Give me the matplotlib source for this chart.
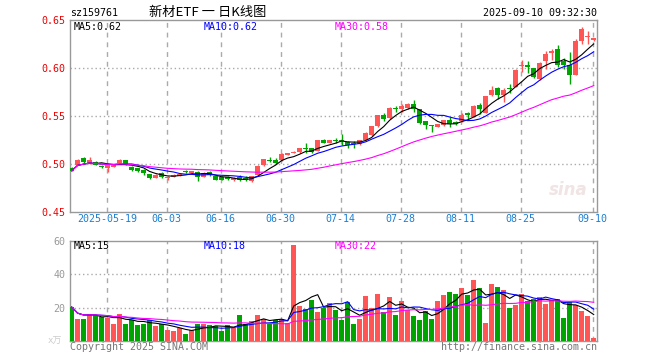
import numpy as np
import pandas as pd
import matplotlib
matplotlib.use('Agg')
import matplotlib.pyplot as plt

# 交易日（端午 6月2日 休市）
dates = pd.bdate_range('2025-05-09', '2025-09-10')
dates = dates[dates != pd.Timestamp('2025-06-02')]

# 日K数据：开 高 低 收
open_p = [0.4955, 0.4990, 0.5059, 0.5007, 0.5024, 0.4983, 0.4960, 0.4970, 0.5015, 0.5042,
          0.4972, 0.4955, 0.4940, 0.4892, 0.4855, 0.4910, 0.4850, 0.4865, 0.4880, 0.4922,
          0.4905, 0.4920, 0.4868, 0.4920, 0.4875, 0.4868, 0.4860, 0.4835, 0.4860, 0.4855,
          0.4825, 0.4885, 0.4985, 0.5040, 0.5040, 0.5040, 0.5094, 0.5118, 0.5122, 0.5160,
          0.5163, 0.5139, 0.5250, 0.5222, 0.5245, 0.5245, 0.5233, 0.5215, 0.5208, 0.5250,
          0.5302, 0.5396, 0.5510, 0.5476, 0.5580, 0.5573, 0.5580, 0.5628, 0.5573, 0.5448,
          0.5400, 0.5389, 0.5406, 0.5458, 0.5440, 0.5443, 0.5535, 0.5490, 0.5611, 0.5535,
          0.5722, 0.5792, 0.5722, 0.5790, 0.5802, 0.6022, 0.6035, 0.6000, 0.5882, 0.6069,
          0.6160, 0.6194, 0.6069, 0.6028, 0.5931, 0.6278, 0.6320, 0.6290]
high_p = [0.4965, 0.5050, 0.5076, 0.5076, 0.5030, 0.4990, 0.5000, 0.4995, 0.5050, 0.5045,
          0.4980, 0.4960, 0.4945, 0.4900, 0.4895, 0.4915, 0.4875, 0.4900, 0.4900, 0.4935,
          0.4930, 0.4925, 0.4915, 0.4925, 0.4880, 0.4875, 0.4870, 0.4862, 0.4885, 0.4870,
          0.4875, 0.4985, 0.5055, 0.5070, 0.5060, 0.5110, 0.5115, 0.5140, 0.5170, 0.5215,
          0.5170, 0.5255, 0.5260, 0.5255, 0.5270, 0.5313, 0.5240, 0.5240, 0.5255, 0.5330,
          0.5400, 0.5515, 0.5530, 0.5590, 0.5600, 0.5630, 0.5635, 0.5665, 0.5578, 0.5452,
          0.5402, 0.5420, 0.5462, 0.5490, 0.5450, 0.5530, 0.5540, 0.5610, 0.5639, 0.5712,
          0.5809, 0.5800, 0.5792, 0.5835, 0.5985, 0.6080, 0.6070, 0.6005, 0.6060, 0.6180,
          0.6194, 0.6236, 0.6100, 0.6166, 0.6298, 0.6427, 0.6382, 0.6315]
low_p = [0.4925, 0.4985, 0.5010, 0.4995, 0.4985, 0.4955, 0.4920, 0.4965, 0.5010, 0.4985,
         0.4930, 0.4915, 0.4885, 0.4840, 0.4850, 0.4850, 0.4835, 0.4860, 0.4875, 0.4905,
         0.4900, 0.4820, 0.4860, 0.4880, 0.4830, 0.4830, 0.4835, 0.4820, 0.4820, 0.4825,
         0.4815, 0.4880, 0.4980, 0.5020, 0.5005, 0.5035, 0.5090, 0.5110, 0.5118, 0.5110,
         0.5115, 0.5135, 0.5215, 0.5218, 0.5215, 0.5198, 0.5165, 0.5165, 0.5200, 0.5245,
         0.5295, 0.5390, 0.5450, 0.5470, 0.5540, 0.5540, 0.5575, 0.5545, 0.5420, 0.5365,
         0.5330, 0.5385, 0.5400, 0.5385, 0.5405, 0.5440, 0.5460, 0.5485, 0.5525, 0.5530,
         0.5710, 0.5674, 0.5646, 0.5735, 0.5798, 0.5958, 0.5945, 0.5895, 0.5875, 0.5990,
         0.6080, 0.6010, 0.5990, 0.5837, 0.5925, 0.6253, 0.6253, 0.6280]
close_p = [0.4930, 0.5042, 0.5024, 0.5042, 0.4990, 0.4965, 0.4985, 0.4985, 0.5042, 0.4990,
           0.4938, 0.4925, 0.4903, 0.4855, 0.4885, 0.4868, 0.4868, 0.4890, 0.4888, 0.4918,
           0.4925, 0.4860, 0.4910, 0.4888, 0.4838, 0.4838, 0.4845, 0.4855, 0.4830, 0.4830,
           0.4870, 0.4980, 0.5049, 0.5035, 0.5012, 0.5104, 0.5110, 0.5122, 0.5163, 0.5155,
           0.5122, 0.5250, 0.5222, 0.5250, 0.5240, 0.5240, 0.5200, 0.5210, 0.5250, 0.5326,
           0.5396, 0.5510, 0.5465, 0.5583, 0.5573, 0.5604, 0.5628, 0.5576, 0.5424, 0.5406,
           0.5396, 0.5415, 0.5458, 0.5413, 0.5413, 0.5510, 0.5507, 0.5604, 0.5569, 0.5708,
           0.5774, 0.5722, 0.5774, 0.5782, 0.5976, 0.6028, 0.6007, 0.5906, 0.6052, 0.6142,
           0.6173, 0.6035, 0.6035, 0.5931, 0.6278, 0.6410, 0.6325, 0.6310]
# 成交量（万）
volume = [20.4, 13.0, 13.4, 16.0, 15.4, 14.4, 14.0, 10.4, 16.0, 10.4,
          12.8, 9.4, 10.0, 12.4, 8.8, 10.0, 6.8, 6.0, 8.0, 4.0,
          6.8, 10.4, 10.0, 9.4, 8.8, 6.0, 9.4, 8.0, 15.4, 10.4,
          11.8, 15.4, 13.4, 10.4, 12.8, 13.4, 10.8, 57.4, 20.8, 19.0,
          24.4, 17.4, 19.8, 22.8, 18.4, 12.4, 23.4, 10.0, 13.0, 26.8,
          20.0, 28.0, 17.4, 26.4, 15.4, 23.8, 18.4, 14.8, 12.4, 17.8,
          13.0, 24.0, 27.4, 29.4, 28.0, 31.8, 27.4, 36.4, 31.8, 10.8,
          34.0, 32.4, 30.4, 20.0, 21.4, 28.0, 23.8, 25.0, 26.4, 22.0,
          24.8, 25.0, 13.8, 23.4, 21.4, 18.0, 14.8, 1.8]

tick_dates = ['2025-05-19', '2025-06-03', '2025-06-16', '2025-06-30', '2025-07-14',
              '2025-07-28', '2025-08-11', '2025-08-25', '2025-09-10']
tick_labels = ['2025-05-19', '06-03', '06-16', '06-30', '07-14',
               '07-28', '08-11', '08-25', '09-10']

o = np.array(open_p)
h = np.array(high_p)
l = np.array(low_p)
c = np.array(close_p)
v = np.array(volume)
x = np.arange(len(dates))
tick_pos = [dates.get_loc(pd.Timestamp(d)) - 0.15 for d in tick_dates]

RED = '#ff5555'
GREEN = '#00a400'
GRID = '#aaaaaa'
MONO = ['DejaVu Sans Mono', 'Noto Sans CJK SC']
plt.rcParams['font.family'] = MONO
FS = 7.2
LW = 0.8

up = c >= o
colors = np.where(up, RED, GREEN)

W, H = 660, 360
fig = plt.figure(figsize=(6.6, 3.6), dpi=100)
ax1 = fig.add_axes([70 / W, 1 - 212 / H, 527 / W, 192 / H])
ax2 = fig.add_axes([70 / W, 1 - 341 / H, 527 / W, 100 / H])


def ftext(px, py, s, **kw):
    fig.text(px / W, 1 - py / H, s, **kw)


# 主图：K线
ax1.vlines(x, l, h, color=colors, linewidth=1, zorder=3)
body = np.maximum(np.abs(c - o), 0.0011)
ax1.bar(x, body, bottom=np.minimum(o, c), width=0.8, color=colors, linewidth=0, zorder=3)

cs = pd.Series(c)
ax1.plot(x, cs.rolling(5, min_periods=1).mean(), color='black', lw=LW, zorder=4)
ax1.plot(x, cs.rolling(10, min_periods=1).mean(), color='#0000ff', lw=LW, zorder=4)
ax1.plot(x, cs.rolling(30, min_periods=1).mean(), color='#ff00ff', lw=LW, zorder=4)

# 副图：成交量
ax2.bar(x, v, width=0.8, color=colors, linewidth=0, zorder=3)
vs = pd.Series(v)
ax2.plot(x, vs.rolling(5, min_periods=1).mean(), color='black', lw=LW, zorder=4)
ax2.plot(x, vs.rolling(10, min_periods=1).mean(), color='#0000ff', lw=LW, zorder=4)
ax2.plot(x, vs.rolling(30, min_periods=1).mean(), color='#ff00ff', lw=LW, zorder=4)

for ax in (ax1, ax2):
    ax.set_xlim(-0.28, 87.55)
    for s in ax.spines.values():
        s.set_color('#999999')
        s.set_linewidth(1)
    ax.tick_params(length=0)
    for p in tick_pos:
        ax.axvline(p, color=GRID, lw=1, dashes=(3.5, 3.5), zorder=1)

ax1.set_ylim(0.45, 0.65)
ax1.set_yticks([0.45, 0.50, 0.55, 0.60, 0.65])
ax1.set_yticklabels(['%.2f' % t for t in [0.45, 0.50, 0.55, 0.60, 0.65]], color='#ee0000', fontsize=FS)
ax1.tick_params(axis='y', pad=3.5)
for g in [0.50, 0.55, 0.60]:
    ax1.axhline(g, color=GRID, lw=1, dashes=(1, 2), zorder=1)
ax1.set_xticks(tick_pos)
ax1.set_xticklabels(tick_labels, color='#1a7fd4', fontsize=FS)
ax1.tick_params(axis='x', pad=1.5)

ax2.set_ylim(0, 60)
ax2.set_yticks([20, 40, 60])
ax2.set_yticklabels(['20', '40', '60'], color='#999999', fontsize=FS)
ax2.tick_params(axis='y', pad=3.5)
for g in [20, 40]:
    ax2.axhline(g, color=GRID, lw=1, dashes=(1, 2), zorder=1)
ax2.set_xticks(tick_pos)
ax2.set_xticklabels([])

# 标题与标注
ftext(70, 13, 'sz159761', fontsize=FS, va='center', ha='left')
ftext(149, 12, '新材ETF 一 日K线图', fontsize=9.5, va='center', ha='left',
      family=['Noto Sans CJK SC', 'DejaVu Sans'])
ftext(597, 13, '2025-09-10 09:32:30', fontsize=FS, va='center', ha='right')

ftext(74, 27, 'MA5:0.62', fontsize=FS, va='center', color='black')
ftext(204, 27, 'MA10:0.62', fontsize=FS, va='center', color='#0000ff')
ftext(335, 27, 'MA30:0.58', fontsize=FS, va='center', color='#ff00ff')

ftext(74, 246, 'MA5:15', fontsize=FS, va='center', color='black')
ftext(204, 246, 'MA10:18', fontsize=FS, va='center', color='#0000ff')
ftext(335, 246, 'MA30:22', fontsize=FS, va='center', color='#ff00ff')

ftext(48, 341, 'x万', fontsize=6.5, va='center', color='#cccccc')
ftext(70, 347, 'Copyright 2025 SINA.COM', fontsize=FS, va='center', color='#777777')
ftext(597, 347, 'http://finance.sina.com.cn', fontsize=FS, va='center', ha='right', color='#777777')

# 水印
ftext(568, 190, 'sina', fontsize=12, style='italic', weight='bold', ha='center', va='center',
      color='#f0e4e4', family=['DejaVu Sans'])

fig.savefig('out.png', dpi=100)
